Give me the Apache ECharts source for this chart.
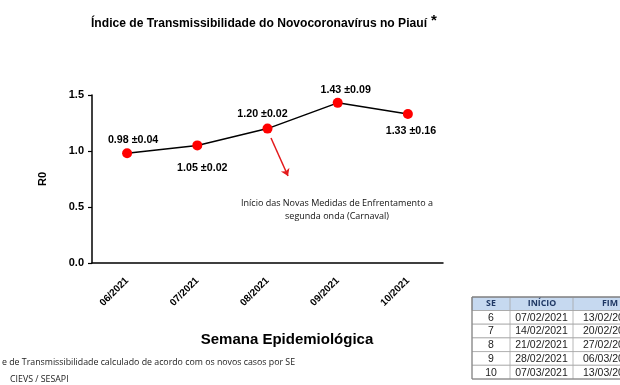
<!DOCTYPE html>
<html>
<head>
<meta charset="utf-8">
<script src="https://cdn.jsdelivr.net/npm/echarts@6/dist/echarts.min.js"></script>
<style>html,body{margin:0;padding:0;background:#fff}#c{width:620px;height:385px}</style>
</head>
<body>
<div id="c"></div>
<script>
// ---- data ----
const weeks = ['06/2021', '07/2021', '08/2021', '09/2021', '10/2021'];
const r0Values = [0.98, 1.05, 1.20, 1.43, 1.33];
const r0Errors = [0.04, 0.02, 0.02, 0.09, 0.16];
const yTicks = [0, 0.5, 1.0, 1.5];
const tableSE = [6, 7, 8, 9, 10];
const tableStart = ['07/02/2021', '14/02/2021', '21/02/2021', '28/02/2021', '07/03/2021'];
const tableEnd = ['13/02/2021', '20/02/2021', '27/02/2021', '06/03/2021', '13/03/2021'];
const tableHeader = ['SE', 'INÍCIO', 'FIM'];

// ---- styling (not data) ----
const labelOffsets = [[6, -13], [5, 23], [-5, -15], [8, -13], [3, 17]];
const F = 'Liberation Sans, Arial, sans-serif';
const F2 = 'Open Sans, Noto Sans, sans-serif';

const chart = echarts.init(document.getElementById('c'));

// table graphic
const colX = [472, 510, 573, 680];
const rowTop = 297, headH = 13.5, rowH = 13.7;
const headCenters = [491, 542, 610];
const tableEls = [];
tableEls.push({type:'rect', shape:{x:colX[0], y:rowTop, width:colX[3]-colX[0], height:headH}, style:{fill:'#c6d9f0', stroke:'#7f7f7f', lineWidth:1}});
tableHeader.forEach((h, i) => {
  tableEls.push({type:'text', x:headCenters[i], y:rowTop+headH/2, style:{text:h, font:'bold 8.8px '+F2, fill:'#1f3864', align:'center', verticalAlign:'middle'}});
});
tableSE.forEach((se, r) => {
  const y0 = rowTop + headH + r*rowH;
  tableEls.push({type:'rect', shape:{x:colX[0], y:y0, width:colX[3]-colX[0], height:rowH}, style:{fill:'#fff', stroke:'#a6a6a6', lineWidth:0.8}});
  const vals = [String(se), tableStart[r], tableEnd[r]];
  vals.forEach((v, i) => {
    const x = i===2 ? 583 : (colX[i]+colX[i+1])/2;
    tableEls.push({type:'text', x:x, y:y0+rowH/2+0.5, style:{text:v, font:'10.5px '+F, fill:'#222', align:i===2?'left':'center', verticalAlign:'middle'}});
  });
});
[colX[1], colX[2]].forEach(x => {
  tableEls.push({type:'line', shape:{x1:x, y1:rowTop, x2:x, y2:rowTop+headH+5*rowH}, style:{stroke:'#a6a6a6', lineWidth:0.8}});
});
tableEls.push({type:'rect', shape:{x:colX[0], y:rowTop, width:colX[3]-colX[0], height:headH+5*rowH}, style:{fill:'none', stroke:'#7f7f7f', lineWidth:1}});

chart.setOption({
  backgroundColor: '#fff',
  animation: false,
  grid: {left: 92, right: 177, top: 95, bottom: 122, containLabel: false},
  xAxis: {
    type: 'category',
    data: weeks,
    boundaryGap: true,
    axisLine: {lineStyle: {color: '#000', width: 1.5}},
    axisTick: {alignWithLabel: true, length: 4, lineStyle: {color: '#000', width: 1.2}},
    axisLabel: {rotate: 45, color: '#000', fontFamily: F, fontWeight: 'bold', fontSize: 10, margin: 16},
    splitLine: {show: false}
  },
  yAxis: {
    type: 'value',
    min: yTicks[0],
    max: yTicks[yTicks.length-1],
    interval: 0.5,
    axisLine: {show: true, lineStyle: {color: '#000', width: 1.5}},
    axisTick: {show: true, length: 4, lineStyle: {color: '#000', width: 1.2}},
    axisLabel: {color: '#000', fontFamily: F, fontWeight: 'bold', fontSize: 11, margin: 8, formatter: v => v.toFixed(1)},
    splitLine: {show: false},
    name: 'R0',
    nameLocation: 'middle',
    nameGap: 44,
    nameRotate: 90,
    nameTextStyle: {color: '#000', fontFamily: F, fontWeight: 'bold', fontSize: 11}
  },
  series: [{
    type: 'line',
    data: r0Values.map((v, i) => ({
      value: v,
      label: {offset: labelOffsets[i]}
    })),
    lineStyle: {color: '#000', width: 1.5},
    symbol: 'circle',
    symbolSize: 10,
    itemStyle: {color: '#ff0000'},
    label: {
      show: true,
      position: 'inside',
      color: '#000',
      fontFamily: F,
      fontWeight: 'bold',
      fontSize: 10.7,
      formatter: p => p.value.toFixed(2) + ' \u00b1' + r0Errors[p.dataIndex].toFixed(2)
    },
    markLine: {
      silent: true,
      symbol: ['none', 'arrow'],
      symbolSize: 7,
      label: {show: false},
      lineStyle: {color: '#e31a1c', width: 1.5, type: 'solid'},
      data: [[{x: 271, y: 138}, {x: 288, y: 176}]]
    }
  }],
  graphic: [
    {type:'text', x:91, y:24, style:{text:'Índice de Transmissibilidade do Novocoronavírus no Piauí', font:'bold 12.1px '+F, fill:'#000', verticalAlign:'middle'}},
    {type:'text', x:431, y:21, style:{text:'*', font:'bold 15px '+F, fill:'#000', verticalAlign:'middle'}},
    {type:'text', x:337, y:203, style:{text:'Início das Novas Medidas de Enfrentamento a', font:'9px '+F2, fill:'#111', align:'center', verticalAlign:'middle'}},
    {type:'text', x:337, y:216, style:{text:'segunda onda (Carnaval)', font:'9px '+F2, fill:'#111', align:'center', verticalAlign:'middle'}},
    {type:'text', x:287, y:340, style:{text:'Semana Epidemiológica', font:'bold 15px '+F, fill:'#000', align:'center', verticalAlign:'middle'}},
    {type:'text', x:2, y:362, style:{text:'e de Transmissibilidade calculado de acordo com os novos casos por SE', font:'8.8px '+F2, fill:'#222', verticalAlign:'middle'}},
    {type:'text', x:10, y:379, style:{text:'CIEVS / SESAPI', font:'8.8px '+F2, fill:'#222', verticalAlign:'middle'}},
    {type:'group', children: tableEls}
  ]
});
</script>
</body>
</html>
